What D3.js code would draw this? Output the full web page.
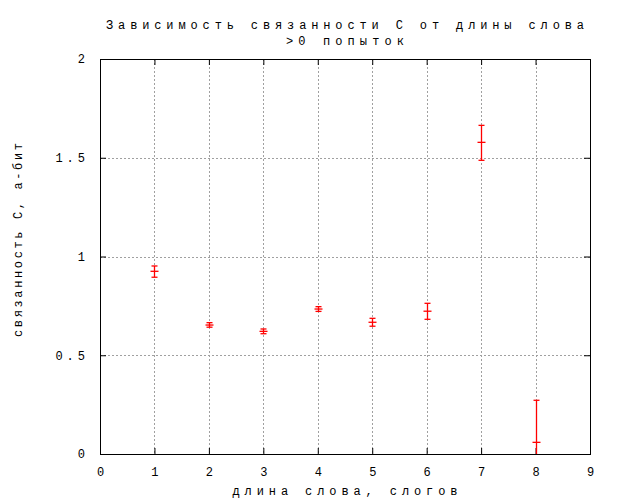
<!DOCTYPE html>
<html><head><meta charset="utf-8">
<script src="https://cdn.jsdelivr.net/npm/d3@7"></script>
<style>body{margin:0;background:#fff}svg{display:block}text{font-family:"Liberation Mono","DejaVu Sans Mono",monospace;font-size:12px;fill:#000}</style>
</head><body><div id="chart"></div>
<script>
const titleLines = ["Зависимость связанности С от длины слова", ">0 попыток"];
const xLabel = "длина слова, слогов";
const yLabel = "связанность С, а-бит";
const xTicks = [0,1,2,3,4,5,6,7,8,9];
const yTicks = [0,0.5,1,1.5,2];
const yTickLabels = ["0","0.5","1","1.5","2"];
const syllables = [1,2,3,4,5,6,7,8];
const meanC = [0.925,0.653,0.621,0.734,0.667,0.723,1.578,0.059];
const lowC  = [0.895,0.642,0.609,0.722,0.647,0.682,1.487,-0.154];
const highC = [0.952,0.665,0.633,0.746,0.687,0.763,1.664,0.272];

const W=625,H=500,m={l:100,r:35,t:59,b:46};
const iw=W-m.l-m.r, ih=H-m.t-m.b;
const svg=d3.select("#chart").append("svg").attr("width",W).attr("height",H);
const x=d3.scaleLinear().domain([0,9]).range([m.l,m.l+iw]);
const y=d3.scaleLinear().domain([0,2]).range([m.t+ih,m.t]);

svg.append("clipPath").attr("id","clip").append("rect").attr("x",m.l).attr("y",m.t).attr("width",iw).attr("height",ih);

// grid
const grid=svg.append("g").attr("stroke","#a0a0a0").attr("stroke-dasharray","2,2").attr("stroke-width",1);
xTicks.slice(1,-1).forEach(t=>grid.append("line").attr("x1",Math.round(x(t))+0.5).attr("x2",Math.round(x(t))+0.5).attr("y1",m.t).attr("y2",m.t+ih));
yTicks.slice(1,-1).forEach(t=>grid.append("line").attr("y1",Math.round(y(t))+0.5).attr("y2",Math.round(y(t))+0.5).attr("x1",m.l).attr("x2",m.l+iw));

// axes with inward ticks on all four sides
const tl=-6;
const fmtY=d=>yTickLabels[yTicks.indexOf(d)];
function styleAxis(g){g.select(".domain").remove();g.selectAll("line").attr("stroke","#000");g.selectAll("text").attr("fill","#000").style("font-family",'"Liberation Mono",monospace').style("font-size","12px");}
const gb=svg.append("g").attr("transform",`translate(0,${m.t+ih})`).call(d3.axisBottom(x).tickValues(xTicks).tickSize(tl).tickPadding(13).tickFormat(d3.format("d")));
styleAxis(gb);
const gt=svg.append("g").attr("transform",`translate(0,${m.t})`).call(d3.axisTop(x).tickValues(xTicks).tickSize(tl).tickFormat(""));
styleAxis(gt);
const gl=svg.append("g").attr("transform",`translate(${m.l},0)`).call(d3.axisLeft(y).tickValues(yTicks).tickSize(tl).tickPadding(11).tickFormat(fmtY));
styleAxis(gl);
gl.selectAll("text").attr("letter-spacing","4px");
const gr=svg.append("g").attr("transform",`translate(${m.l+iw},0)`).call(d3.axisRight(y).tickValues(yTicks).tickSize(tl).tickFormat(""));
styleAxis(gr);

svg.append("rect").attr("x",m.l+0.5).attr("y",m.t+0.5).attr("width",iw).attr("height",ih).attr("fill","none").attr("stroke","#000").attr("stroke-width",1);

// error bars
const eb=svg.append("g").attr("clip-path","url(#clip)").attr("stroke","#ff0000").attr("stroke-width",1.3);
syllables.forEach((s,i)=>{
  const cx=Math.round(x(s))+0.5;
  eb.append("line").attr("x1",cx).attr("x2",cx).attr("y1",y(lowC[i])).attr("y2",y(highC[i]));
  eb.append("line").attr("x1",cx-3).attr("x2",cx+3).attr("y1",y(lowC[i])).attr("y2",y(lowC[i]));
  eb.append("line").attr("x1",cx-3).attr("x2",cx+3).attr("y1",y(highC[i])).attr("y2",y(highC[i]));
  eb.append("line").attr("x1",cx-4).attr("x2",cx+4).attr("y1",y(meanC[i])).attr("y2",y(meanC[i]));
});

// titles
const cxp=m.l+iw/2;
svg.append("text").attr("x",cxp).attr("y",29).attr("text-anchor","middle").attr("textLength",478).attr("lengthAdjust","spacing").text(titleLines[0]);
svg.append("text").attr("x",cxp).attr("y",45).attr("text-anchor","middle").attr("textLength",118).attr("lengthAdjust","spacing").text(titleLines[1]);
svg.append("text").attr("x",cxp).attr("y",495).attr("text-anchor","middle").attr("textLength",225).attr("lengthAdjust","spacing").text(xLabel);
svg.append("text").attr("transform","translate(22,240) rotate(-90)").attr("text-anchor","middle").attr("textLength",194).attr("lengthAdjust","spacing").text(yLabel);
</script></body></html>
